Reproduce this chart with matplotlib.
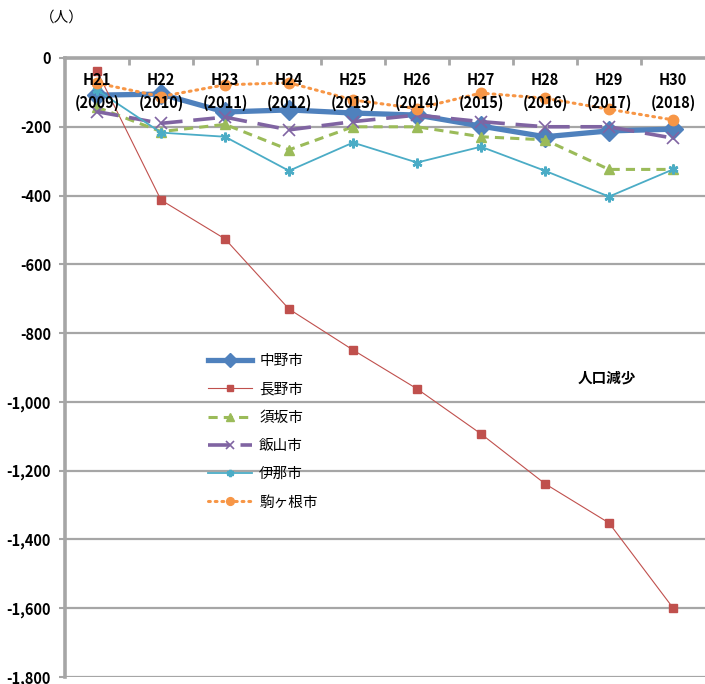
import numpy as np
import matplotlib.pyplot as plt
from matplotlib.ticker import FuncFormatter, FixedLocator

plt.rcParams['font.family'] = ['Noto Sans CJK JP', 'DejaVu Sans']

# 年度ラベル
years = ['H21\n(2009)', 'H22\n(2010)', 'H23\n(2011)', 'H24\n(2012)', 'H25\n(2013)',
         'H26\n(2014)', 'H27\n(2015)', 'H28\n(2016)', 'H29\n(2017)', 'H30\n(2018)']

# 人口増減（人）
nakano = [-108, -105, -157, -151, -160, -166, -198, -229, -212, -207]
nagano = [-38, -413, -526, -730, -849, -962, -1093, -1238, -1352, -1599]
suzaka = [-143, -214, -193, -267, -200, -200, -229, -238, -324, -324]
iiyama = [-156, -190, -172, -209, -185, -166, -185, -200, -200, -233]
ina = [-93, -217, -229, -328, -246, -304, -258, -328, -403, -324]
komagane = [-73, -112, -78, -72, -122, -147, -102, -117, -149, -180]

cities = ['中野市', '長野市', '須坂市', '飯山市', '伊那市', '駒ヶ根市']

fig = plt.figure(figsize=(7.05, 6.84), dpi=100)
ax = fig.add_axes([65 / 705, 1 - 677 / 684, 640 / 705, 619 / 684])

x = np.arange(len(years))

ax.plot(x, nakano, color='#4F81BD', lw=3.8, marker='D', ms=10, label=cities[0], zorder=3)
ax.plot(x, nagano, color='#C0504D', lw=0.8, marker='s', ms=5.5, label=cities[1], zorder=3)
ax.plot(x, suzaka, color='#9BBB59', lw=2.2, ls=(0, (3, 2)), marker='^', ms=7.5, label=cities[2], zorder=3)
ax.plot(x, iiyama, color='#8064A2', lw=2.6, ls=(0, (6, 3)), marker='x', ms=8, mew=1.2, label=cities[3], zorder=3)
ax.plot(x, ina, color='#4BACC6', lw=1.3, marker=(6, 2, 0), ms=7, mew=1.8, label=cities[4], zorder=3)
ax.plot(x, komagane, color='#F79646', lw=2.2, ls=(0, (0.6, 1.6)), dash_capstyle='round',
        marker='o', ms=7.5, label=cities[5], zorder=3)

# 軸の設定
ax.set_xlim(-0.5, len(years) - 0.5)
ax.set_ylim(-1800, 0)
ax.set_yticks(np.arange(-1800, 1, 200))
ax.yaxis.set_major_formatter(FuncFormatter(lambda v, p: f'{int(v):,}'))
ax.yaxis.grid(True, color='#A6A6A6', lw=1.6)
ax.set_axisbelow(True)
ax.tick_params(axis='y', length=4, width=1.5, color='#A6A6A6', pad=6, labelsize=10.5)
for lbl in ax.get_yticklabels():
    lbl.set_fontweight('bold')

ax.xaxis.tick_top()
ax.set_xticks([])
ax.xaxis.set_minor_locator(FixedLocator(np.arange(0.5, len(years) - 0.5, 1)))
ax.tick_params(axis='x', which='minor', direction='in', length=5, width=2, color='#A6A6A6')

for side in ['right', 'bottom']:
    ax.spines[side].set_visible(False)
for side in ['left', 'top']:
    ax.spines[side].set_color('#A6A6A6')
    ax.spines[side].set_linewidth(2.6)

# 年度ラベル（グラフ内上部）
for i, yr in enumerate(years):
    ax.text(i, -40, yr, ha='center', va='top', fontsize=10.5, fontweight='bold',
            linespacing=1.55, zorder=5)

fig.text(40 / 705, 1 - 18 / 684, '（人）', fontsize=10.5, va='center', ha='left')
fig.text(578 / 705, 1 - 378 / 684, '人口減少', fontsize=10.5, fontweight='bold', va='center')

leg = ax.legend(loc='upper left', bbox_to_anchor=(195 / 705, 1 - 341 / 684),
                bbox_transform=fig.transFigure, frameon=False, fontsize=10.5,
                handlelength=3.0, labelspacing=0.98, handletextpad=0.5, markerscale=0.75)

fig.savefig('out.png', dpi=100)
